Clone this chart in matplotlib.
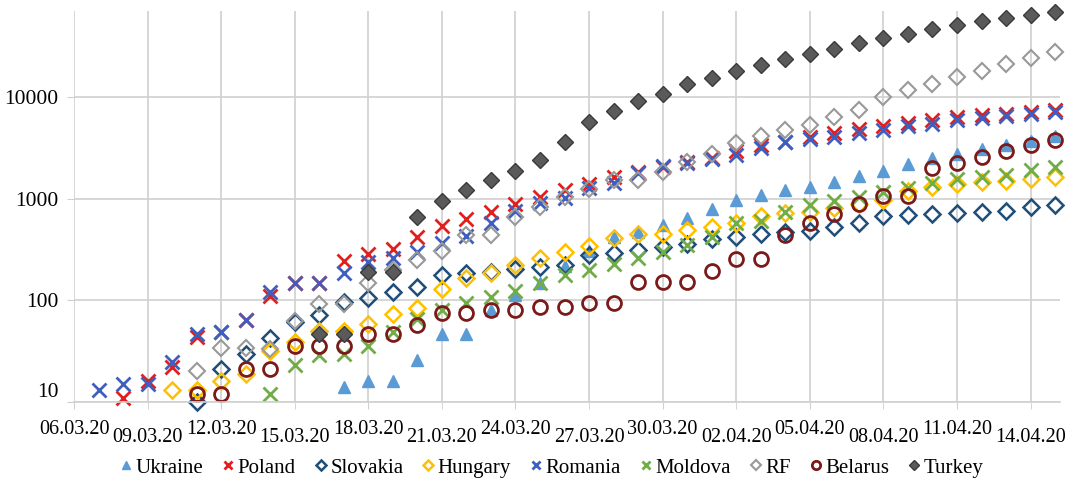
import numpy as np
import matplotlib
matplotlib.use("Agg")
import matplotlib.pyplot as plt
import pandas as pd

FONT = "Liberation Serif"
plt.rcParams["font.family"] = FONT

# ---- data: cumulative cases, one value per day from 06.03.20 to 15.04.20 ----
dates = pd.date_range("2020-03-06", "2020-04-15", freq="D")
N = None

ukraine = [N] * 11 + [14, 16, 16, 26, 47, 47, 80, 112, 150, 218, 310, 418, 475, 548, 645,
                      794, 980, 1090, 1225, 1319, 1462, 1668, 1892, 2203, 2511, 2777,
                      3102, 3372, 3764, 4161]
poland = [N, N, 11, 16, 22, 44, 49, 64, 111, 150, 150, 246, 287, 325, 425, 536, 634, 749,
          901, 1051, 1221, 1389, 1638, 1862, 2055, 2311, 2554, 2946, 3383, 3627, 4102,
          4413, 4848, 5205, 5575, 5955, 6356, 6674, 6934, 7202, 7582]
slovakia = [N] * 5 + [10, 21, 30, 43, 61, 72, 96, 105, 120, 137, 178, 185, 191, 204, 216,
                      226, 280, 292, 314, 336, 363, 400, 426, 450, 471, 485, 534, 581,
                      682, 701, 715, 728, 742, 769, 835, 863]
hungary = [N] * 4 + [13, 13, 16, 19, 32, 39, 50, 50, 58, 73, 85, 131, 167, 187, 226, 261,
                     300, 343, 408, 447, 447, 492, 525, 585, 678, 733, 744, 817, 895, 980,
                     1190, 1310, 1410, 1458, 1512, 1579, 1652]
romania = [N, 13, 15, 15, 25, 47, 49, 64, 120, 150, 150, 186, 238, 260, 300, 367, 433,
           576, 762, 906, 1029, 1292, 1452, 1815, 2109, 2245, 2460, 2738, 3183, 3613,
           3864, 4057, 4417, 4761, 5202, 5467, 5990, 6300, 6633, 6879, 7216]
moldova = [N] * 8 + [12, 23, 29, 30, 36, 49, 66, 80, 94, 109, 125, 149, 177, 199, 231, 263,
                     298, 353, 423, 580, 610, 752, 864, 965, 1056, 1174, 1289, 1438, 1560,
                     1662, 1712, 1934, 2049]
rf = [N] * 5 + [20, 34, 34, 33, 63, 93, 93, 147, 199, 253, 306, 438, 438, 658, 840, 1036,
                1264, 1534, 1534, 1836, 2337, 2777, 3548, 4149, 4731, 5389, 6343, 7497,
                10131, 11917, 13584, 15770, 18328, 21102, 24490, 27938]
belarus = [N] * 5 + [12, 12, 21, 21, 36, 36, 36, 47, 47, 57, 75, 75, 81, 81, 86, 86, 94, 94,
                     152, 152, 152, 195, 258, 258, 440, 580, 718, 887, 1070, 1070, 2000,
                     2240, 2600, 2970, 3380, 3780]
turkey = [N] * 10 + [47, 47, 191, 191, 670, 947, 1236, 1529, 1872, 2433, 3629, 5698, 7402,
                     9217, 10827, 13531, 15679, 18135, 20921, 23934, 27069, 30217, 34109,
                     38226, 42282, 47029, 52167, 56956, 61049, 65111, 69392]

series = [
    ("Ukraine", ukraine, dict(marker="^", ms=9, mfc="#5B9BD5", mec="#5B9BD5")),
    ("Poland", poland, dict(marker="x", ms=10, mew=2, color="#E0201E")),
    ("Slovakia", slovakia, dict(marker="D", ms=8.5, mfc="none", mec="#1F4E79", mew=1.8)),
    ("Hungary", hungary, dict(marker="D", ms=8.5, mfc="none", mec="#FFC000", mew=1.8)),
    ("Romania", romania, dict(marker="x", ms=10, mew=2, color="#3F5FBF")),
    ("Moldova", moldova, dict(marker="x", ms=10, mew=2, color="#70AD47")),
    ("RF", rf, dict(marker="D", ms=8.5, mfc="none", mec="#999999", mew=1.5)),
    ("Belarus", belarus, dict(marker="o", ms=10, mfc="none", mec="#7B1A1A", mew=2)),
    ("Turkey", turkey, dict(marker="D", ms=8.5, mfc="#5A5A5A", mec="#3A3A3A", mew=1)),
]

days = np.arange(len(dates))
tick_labels = [d.strftime("%d.%m.%y") for d in dates]

fig = plt.figure(figsize=(10.71, 4.86), dpi=100)
ax = fig.add_axes([74 / 1071, 1 - 402 / 486, (1060 - 74) / 1071, (402 - 11) / 486])

handles = []
for name, vals, style in series:
    y = np.array([np.nan if v is None else v for v in vals], dtype=float)
    h, = ax.plot(days, y, linestyle="none", clip_on=False, label=name, **style)
    handles.append(h)

ax.set_yscale("log")
ax.set_ylim(10, 71000)
ax.set_xlim(0, 40.2)

# y axis
ax.set_yticks([10, 100, 1000, 10000])
ax.set_yticklabels(["10", "100", "1000", "10000"], fontsize=15.5, family=FONT)
ax.yaxis.set_minor_locator(matplotlib.ticker.NullLocator())
ax.get_yticklabels()[0].set_va("bottom")

# x axis: staggered date labels every 3 days
ax.set_xticks(days[0::6])
ax.set_xticklabels(tick_labels[0::6], fontsize=14.5, family=FONT)
ax.set_xticks(days[3::6], minor=True)
ax.set_xticklabels(tick_labels[3::6], minor=True, fontsize=14.5, family=FONT)
ax.tick_params(axis="x", which="major", length=5, color="#D0D0D0", pad=8)
ax.tick_params(axis="x", which="minor", length=5, color="#D0D0D0", pad=14)
ax.tick_params(axis="y", length=5, color="#D0D0D0", pad=6)

ax.grid(True, which="major", color="#D0D0D0", linewidth=1.2)
ax.grid(True, which="minor", axis="x", color="#D0D0D0", linewidth=1.2)
ax.set_axisbelow(True)
for s in ["top", "right", "left"]:
    ax.spines[s].set_visible(False)
ax.spines["bottom"].set_color("#D0D0D0")
ax.spines["bottom"].set_linewidth(1.2)

fig.legend(handles, [s[0] for s in series], loc="center",
           bbox_to_anchor=(0.515, 1 - 468 / 486), ncol=9, frameon=False,
           prop={"family": FONT, "size": 15}, handlelength=0.6, handletextpad=0.15,
           columnspacing=0.9, markerscale=0.6, borderaxespad=0)

fig.savefig("out.png", dpi=100)
